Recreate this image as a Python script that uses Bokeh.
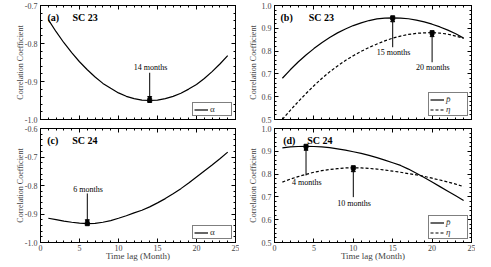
import numpy as np
from bokeh.plotting import figure
from bokeh.models import (Range1d, FixedTicker, LinearAxis, Arrow,
                          NormalHead, Label, Legend, LegendItem, CustomJSTickFormatter,
                          AllLabels)
from bokeh.layouts import gridplot
from bokeh.embed import file_html
from bokeh.resources import INLINE

# ---------------- data ----------------
lags = list(range(1, 25))
alpha_sc23 = [-0.737, -0.769, -0.798, -0.824, -0.848, -0.869, -0.888, -0.905,
              -0.918, -0.930, -0.939, -0.945, -0.949, -0.950, -0.949, -0.945,
              -0.939, -0.931, -0.920, -0.908, -0.892, -0.874, -0.854, -0.832]
p_sc23 = [0.681, 0.718, 0.752, 0.783, 0.811, 0.837, 0.860, 0.880, 0.897, 0.912,
          0.924, 0.934, 0.941, 0.945, 0.946, 0.945, 0.942, 0.936, 0.928, 0.918,
          0.906, 0.892, 0.876, 0.857]
eta_sc23 = [0.500, 0.540, 0.578, 0.614, 0.648, 0.680, 0.709, 0.735, 0.759, 0.780,
            0.799, 0.816, 0.831, 0.845, 0.857, 0.866, 0.873, 0.878, 0.880, 0.881,
            0.879, 0.874, 0.866, 0.856]
alpha_sc24 = [-0.915, -0.920, -0.925, -0.929, -0.932, -0.934, -0.933, -0.929,
              -0.923, -0.915, -0.906, -0.896, -0.887, -0.875, -0.861, -0.846,
              -0.829, -0.811, -0.791, -0.770, -0.749, -0.728, -0.706, -0.683]
p_sc24 = [0.915, 0.919, 0.921, 0.922, 0.921, 0.919, 0.916, 0.911, 0.905, 0.898,
          0.891, 0.882, 0.872, 0.861, 0.850, 0.838, 0.822, 0.804, 0.785, 0.765,
          0.745, 0.725, 0.705, 0.684]
eta_sc24 = [0.765, 0.778, 0.789, 0.799, 0.808, 0.815, 0.820, 0.824, 0.827, 0.828,
            0.827, 0.825, 0.822, 0.818, 0.813, 0.808, 0.802, 0.797, 0.790, 0.782,
            0.774, 0.765, 0.756, 0.745]

x_ticks = [0, 5, 10, 15, 20, 25]
y_ticks_a = [-1.0, -0.9, -0.8, -0.7]
y_ticks_c = [-1.0, -0.9, -0.8, -0.7, -0.6]
y_ticks_bd = [0.5, 0.6, 0.7, 0.8, 0.9, 1.0]
y_labels_a = ["-1.0", "-0.9", "-0.8", "-0.7"]
y_labels_c = ["-1.0", "-0.9", "-0.8", "-0.7", "-0.6"]
y_labels_bd = ["0.5", "0.6", "0.7", "0.8", "0.9", "1.0"]

FONT = "Liberation Serif"
LABEL_COLOR = "#444444"


def minor(lo, hi, step):
    return [round(v, 4) for v in np.arange(lo, hi + step / 2, step)]


def style_axis(ax, show_labels, title=None, fsize="8px", title_standoff=0):
    ax.axis_line_color = "black"
    ax.major_tick_in = 4
    ax.major_tick_out = 0
    ax.minor_tick_in = 2
    ax.minor_tick_out = 0
    ax.major_tick_line_color = "black"
    ax.minor_tick_line_color = "black"
    ax.major_label_policy = AllLabels()
    if show_labels:
        ax.major_label_text_font = FONT
        ax.major_label_text_font_size = "8px"
        ax.major_label_text_color = LABEL_COLOR
        ax.major_label_standoff = 3
    else:
        ax.formatter = CustomJSTickFormatter(code="return ''")
        ax.major_label_text_font_size = "1px"
        ax.major_label_standoff = 0
    if title:
        ax.axis_label = title
        ax.axis_label_text_font = FONT
        ax.axis_label_text_font_size = fsize
        ax.axis_label_text_font_style = "normal"
        ax.axis_label_text_color = LABEL_COLOR
        ax.axis_label_standoff = title_standoff


def make(fw, fh, ylo, yhi, yticks, ylabels, left, right, top, bottom, show_x,
         ytitle_standoff):
    p = figure(frame_width=fw, frame_height=fh, x_range=Range1d(0, 25),
               y_range=Range1d(ylo, yhi), output_backend="svg",
               toolbar_location=None, min_border_left=left, min_border_right=right,
               min_border_top=top, min_border_bottom=bottom)
    p.xgrid.visible = False
    p.ygrid.visible = False
    p.outline_line_color = "black"
    p.background_fill_color = "white"
    p.border_fill_color = "white"

    bx = p.xaxis[0]
    bx.ticker = FixedTicker(ticks=x_ticks, minor_ticks=minor(0, 25, 1))
    style_axis(bx, show_x, "Time lag (Month)" if show_x else None, "9px", -3)
    if show_x:
        bx.formatter = CustomJSTickFormatter(code="return tick.toFixed(0)")
        bx.major_label_standoff = 2

    ly = p.yaxis[0]
    ly.ticker = FixedTicker(ticks=yticks, minor_ticks=minor(ylo, yhi, 0.02))
    ly.major_label_overrides = {t: s for t, s in zip(yticks, ylabels)}
    style_axis(ly, True, "Correlation Coefficient", "8px", ytitle_standoff)

    tx = LinearAxis(ticker=FixedTicker(ticks=x_ticks, minor_ticks=minor(0, 25, 1)))
    style_axis(tx, False)
    p.add_layout(tx, "above")
    ry = LinearAxis(ticker=FixedTicker(ticks=yticks, minor_ticks=minor(ylo, yhi, 0.02)))
    style_axis(ry, False)
    p.add_layout(ry, "right")
    return p


def panel_label(p, tag, sc, ytop, yrange, frame_h, x_tag, x_sc):
    y = ytop - 6.0 / frame_h * yrange
    for txt, x in ((tag, x_tag), (sc, x_sc)):
        p.add_layout(Label(x=x, y=y, text=txt, text_font=FONT, text_font_size="10px",
                           text_font_style="bold", text_baseline="top",
                           text_align="left", text_color="black"))


def annotate(p, lag, val, text, y_text, y_start):
    p.scatter([lag], [val], size=4, marker="square", color="black")
    p.add_layout(Arrow(end=NormalHead(size=4, line_color="black", fill_color="black",
                                      line_width=1),
                       x_start=lag, y_start=y_start, x_end=lag, y_end=val,
                       line_color="black", line_width=1))
    p.add_layout(Label(x=lag + 0.1, y=y_text, text=text, text_font=FONT,
                       text_font_size="8px", text_align="center",
                       text_baseline="middle", text_color="black"))


def legend(p, items, italic=False):
    lg = Legend(items=[LegendItem(label=l, renderers=[r]) for l, r in items],
                location="bottom_right", glyph_width=14, glyph_height=9,
                label_height=9, label_standoff=2, padding=1, spacing=0, margin=3,
                border_line_color="black", border_line_width=1,
                background_fill_color="white", background_fill_alpha=1.0,
                label_text_font=FONT, label_text_font_size="9px",
                label_text_font_style="italic" if italic else "normal",
                label_text_color="#333333")
    p.add_layout(lg)


LFW, RFW = 195, 197
FH = 114

# (a)
pa = make(LFW, FH, -1.0, -0.7, y_ticks_a, y_labels_a, 40, 4, 5, 4, False, -3)
ra = pa.line(lags, alpha_sc23, line_color="black", line_width=1.2)
i = int(np.argmin(alpha_sc23))
annotate(pa, lags[i], alpha_sc23[i], "14 months", -0.863, -0.877)
panel_label(pa, "(a)", "SC 23", -0.7, 0.3, FH, 0.9, 4.1)
legend(pa, [("α", ra)])

# (b)
pb = make(RFW, FH, 0.5, 1.0, y_ticks_bd, y_labels_bd, 35, 4, 5, 4, False, 1)
rb1 = pb.line(lags, p_sc23, line_color="black", line_width=1.2)
rb2 = pb.line(lags, eta_sc23, line_color="black", line_width=1.2, line_dash="3 2")
i = int(np.argmax(p_sc23))
annotate(pb, lags[i], p_sc23[i], "15 months", 0.793, 0.817)
j = int(np.argmax(eta_sc23))
annotate(pb, lags[j], eta_sc23[j], "20 months", 0.729, 0.751)
panel_label(pb, "(b)", "SC 23", 1.0, 0.5, FH, 0.76, 4.35)
legend(pb, [("p\u0304", rb1), ("η", rb2)], italic=True)

# (c)
pc = make(LFW, FH, -1.0, -0.6, y_ticks_c, y_labels_c, 40, 4, 5, 25, True, -3)
rc = pc.line(lags, alpha_sc24, line_color="black", line_width=1.2)
i = int(np.argmin(alpha_sc24))
annotate(pc, lags[i], alpha_sc24[i], "6 months", -0.815, -0.828)
panel_label(pc, "(c)", "SC 24", -0.6, 0.4, FH, 0.86, 4.06)
legend(pc, [("α", rc)])

# (d)
pd_ = make(RFW, FH, 0.5, 1.0, y_ticks_bd, y_labels_bd, 35, 4, 5, 25, True, 1)
rd1 = pd_.line(lags, p_sc24, line_color="black", line_width=1.2)
rd2 = pd_.line(lags, eta_sc24, line_color="black", line_width=1.2, line_dash="3 2")
i = int(np.argmax(p_sc24))
annotate(pd_, lags[i], p_sc24[i], "4 months", 0.764, 0.794)
j = int(np.argmax(eta_sc24))
annotate(pd_, lags[j], eta_sc24[j], "10 months", 0.672, 0.699)
panel_label(pd_, "(d)", "SC 24", 1.0, 0.5, FH, 1.1, 4.15)
legend(pd_, [("p\u0304", rd1), ("η", rd2)], italic=True)

grid = gridplot([[pa, pb], [pc, pd_]], toolbar_location=None)

open("out.html", "w").write(file_html(grid, INLINE))
